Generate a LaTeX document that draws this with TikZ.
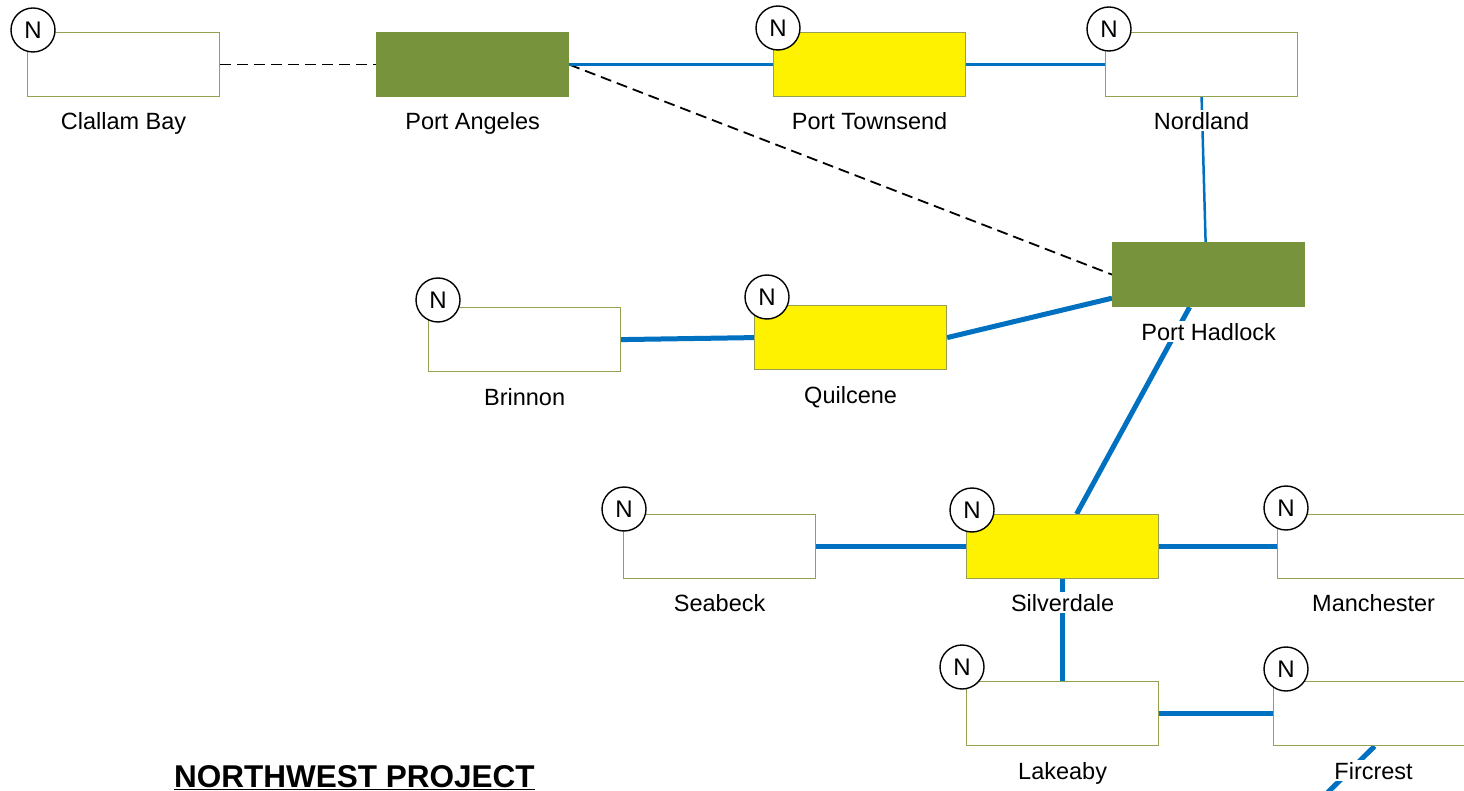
\documentclass[tikz,border=0pt]{standalone}
\usepackage{fontspec}
\setmainfont{Liberation Sans}
\usetikzlibrary{calc}
\pgfdeclarelayer{paper}
\pgfdeclarelayer{bg}
\pgfsetlayers{paper,bg,main}
\definecolor{olivefill}{RGB}{119,147,60}
\definecolor{boxline}{RGB}{150,160,80}
\definecolor{linkblue}{RGB}{0,112,192}
\tikzset{
 site/.style={draw=boxline, line width=1.2pt, fill=white, minimum width=192pt, minimum height=64pt, inner sep=0pt, anchor=north west},
 hub/.style={site, fill=olivefill, draw=olivefill},
 nodeY/.style={site, fill=yellow},
 ncirc/.style={circle, draw=black, line width=1.4pt, fill=white, minimum size=44pt, inner sep=0pt, font=\fontsize{24}{24}\selectfont},
 lbl/.style={fill=white, inner sep=2pt, anchor=base, font=\fontsize{23.5}{28}\selectfont},
 dashlink/.style={black, line width=1.8pt, dash pattern=on 11pt off 6pt},
 thinlink/.style={linkblue, line width=2.5pt},
 thicklink/.style={linkblue, line width=5pt},
}
\begin{document}
\begin{tikzpicture}[x=1pt,y=-1pt]
\useasboundingbox (0,0) rectangle (1464,791);
\clip (0,0) rectangle (1464,791);
\begin{pgfonlayer}{paper}
\fill[white] (0,0) rectangle (1464,791);
\end{pgfonlayer}
% boxes
\node[site]  (cb) at (27,32) {};
\node[hub]   (pa) at (376,32) {};
\node[nodeY] (pt) at (773,32) {};
\node[site]  (no) at (1105,32) {};
\node[hub]   (ph) at (1112,242) {};
\node[site]  (br) at (428,307) {};
\node[nodeY] (qu) at (754,305) {};
\node[site]  (sb) at (623,514) {};
\node[nodeY] (si) at (966,514) {};
\node[site]  (ma) at (1277,514) {};
\node[site]  (la) at (966,681) {};
\node[site]  (fc) at (1273,681) {};
\coordinate (fcEnd) at (1318,802);
% N circles
\node[ncirc] (cbN) at (33,30) {N};
\node[ncirc] (ptN) at (778,28) {N};
\node[ncirc] (noN) at (1109,29) {N};
\node[ncirc] (brN) at (438,300) {N};
\node[ncirc] (quN) at (767,297) {N};
\node[ncirc] (sbN) at (624,509) {N};
\node[ncirc] (siN) at (972,510) {N};
\node[ncirc] (maN) at (1286,508) {N};
\node[ncirc] (laN) at (962,667) {N};
\node[ncirc] (fcN) at (1286,669) {N};
% labels
\node[lbl] (cbL) at ($(cb.south)+(0,32)$) {Clallam Bay};
\node[lbl] (paL) at ($(pa.south)+(0,32)$) {Port Angeles};
\node[lbl] (ptL) at ($(pt.south)+(0,32)$) {Port Townsend};
\node[lbl] (noL) at ($(no.south)+(0,32)$) {Nordland};
\node[lbl] (phL) at ($(ph.south)+(0,33)$) {Port Hadlock};
\node[lbl] (brL) at ($(br.south)+(0,33)$) {Brinnon};
\node[lbl] (quL) at ($(qu.south)+(0,33)$) {Quilcene};
\node[lbl] (sbL) at ($(sb.south)+(0,32)$) {Seabeck};
\node[lbl] (siL) at ($(si.south)+(0,32)$) {Silverdale};
\node[lbl] (maL) at ($(ma.south)+(0,32)$) {Manchester};
\node[lbl] (laL) at ($(la.south)+(0,33)$) {Lakeaby};
\node[lbl] (fcL) at ($(fc.south)+(4,33)$) {Fircrest};
\node[anchor=base west, inner sep=0pt, font=\fontsize{31.5}{34}\selectfont\bfseries] (title) at (174,787) {\underline{NORTHWEST PROJECT}};
% connectors
\begin{pgfonlayer}{bg}
\draw[dashlink] (cb.east) -- (pa.west);
\draw[dashlink] (pa.east) -- (ph.west);
\draw[thinlink] (pa.east) -- (pt.west);
\draw[thinlink] (pt.east) -- (no.west);
\draw[thinlink] (no.south) -- ([xshift=-3pt]ph.north);
\draw[thicklink] (br.east) -- (qu.west);
\draw[thicklink] (qu.east) -- ([yshift=9pt]ph.south west);
\draw[thicklink] ([xshift=-19pt]ph.south) -- ([xshift=14pt]si.north);
\draw[thicklink] (sb.east) -- (si.west);
\draw[thicklink] (si.east) -- (ma.west);
\draw[thicklink] (si.south) -- (la.north);
\draw[thicklink] (la.east) -- (fc.west);
\draw[thicklink] ([xshift=5pt]fc.south) -- (fcEnd);
\end{pgfonlayer}
\end{tikzpicture}
\end{document}
